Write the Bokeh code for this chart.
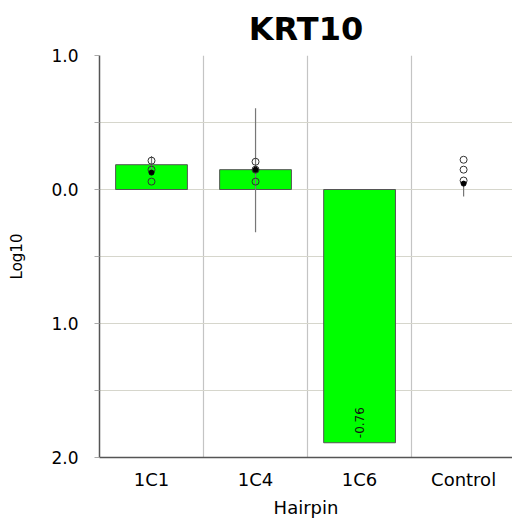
import numpy as np
from bokeh.plotting import figure
from bokeh.models import FixedTicker, Range1d
from bokeh.embed import file_html
from bokeh.resources import INLINE
from bokeh.core.properties import value

# ---- data ----
categories = ["1C1", "1C4", "1C6", "Control"]
bar_values = [0.185, 0.148, -1.89, 0.0]
bar_shown = [True, True, True, False]
err_low = [0.126, -0.319, None, -0.052]
err_high = [0.25, 0.607, None, 0.044]
open_points_1C1 = [0.215, 0.148, 0.059]
open_points_1C4 = [0.207, 0.148, 0.059]
open_points_ctrl = [0.222, 0.148, 0.067]
filled_points = {"1C1": 0.126, "1C4": 0.148, "Control": 0.044}
note_category = "1C6"
note_text = "-0.76"
note_y = -1.74
y_ticks = [-2.0, -1.5, -1.0, -0.5, 0.0, 0.5, 1.0]
y_tick_text = {-2.0: "2.0", -1.0: "1.0", 0.0: "0.0", 1.0: "1.0"}

FONT = "DejaVu Sans"
pos = {c: i + 0.5 for i, c in enumerate(categories)}

p = figure(width=512, height=520, output_backend="svg", toolbar_location=None,
           x_range=Range1d(0, 3.97), y_range=Range1d(-2.0, 1.0),
           min_border_left=99, min_border_right=0, min_border_top=54, min_border_bottom=61,
           title="KRT10")
p.outline_line_color = None
p.background_fill_color = "white"
p.border_fill_color = "white"

p.title.text_font = FONT
p.title.text_font_size = "32px"
p.title.text_font_style = "bold"
p.title.align = "center"
p.title.text_color = "black"
p.title.standoff = 15

# bars
bx = [pos[c] for c, s in zip(categories, bar_shown) if s]
bt = [v for v, s in zip(bar_values, bar_shown) if s]
p.vbar(x=bx, top=bt, bottom=0, width=0.69, fill_color="#00ff00",
       line_color="#555555", line_width=1)

# error bars
ex, elo, ehi = [], [], []
for c, lo, hi in zip(categories, err_low, err_high):
    if lo is not None:
        ex.append(pos[c]); elo.append(lo); ehi.append(hi)
p.segment(x0=ex, y0=elo, x1=ex, y1=ehi, line_color="#777777", line_width=1.2)

# points
px, py = [], []
for c, pts in (("1C1", open_points_1C1), ("1C4", open_points_1C4), ("Control", open_points_ctrl)):
    for v in pts:
        px.append(pos[c]); py.append(v)
p.scatter(x=px, y=py, marker="circle", size=7, fill_color=None,
          line_color="#333333", line_width=1)
p.scatter(x=[pos[c] for c in filled_points], y=list(filled_points.values()),
          marker="circle", size=5, fill_color="black", line_color="black")

p.text(x=[pos[note_category]], y=[note_y], text=[note_text], angle=np.pi / 2,
       text_align="center", text_baseline="middle", text_font=value(FONT),
       text_font_size="12px", text_color="#111111")

# y axis
ya = p.yaxis[0]
ya.ticker = FixedTicker(ticks=y_ticks)
ya.major_label_overrides = {t: y_tick_text.get(t, "") for t in y_ticks}
ya.minor_tick_line_color = None
ya.major_tick_in = 0
ya.major_tick_out = 5
ya.major_tick_line_color = "#aaaaaa"
ya.axis_line_color = "#555555"
ya.axis_line_width = 1.5
ya.major_label_standoff = 16
ya.major_label_text_font = FONT
ya.major_label_text_font_size = "17px"
ya.major_label_text_color = "black"
ya.axis_label = "Log10"
ya.axis_label_text_font = FONT
ya.axis_label_text_font_size = "15px"
ya.axis_label_text_font_style = "normal"
ya.axis_label_text_color = "black"
ya.axis_label_standoff = 22

# x axis
xa = p.xaxis[0]
xa.ticker = FixedTicker(ticks=[pos[c] for c in categories])
xa.major_label_overrides = {pos[c]: c for c in categories}
xa.minor_tick_line_color = None
xa.major_tick_line_color = None
xa.major_tick_in = 0
xa.major_tick_out = 0
xa.axis_line_color = "#555555"
xa.axis_line_width = 1.5
xa.major_label_standoff = 11
xa.major_label_text_font = FONT
xa.major_label_text_font_size = "18px"
xa.major_label_text_color = "black"
xa.axis_label = "Hairpin"
xa.axis_label_text_font = FONT
xa.axis_label_text_font_size = "18px"
xa.axis_label_text_font_style = "normal"
xa.axis_label_text_color = "black"
xa.axis_label_standoff = 4

# grids
p.ygrid.ticker = FixedTicker(ticks=y_ticks)
p.ygrid.grid_line_color = "#d6d6cc"
p.ygrid.grid_line_width = 1.2
p.xgrid.ticker = FixedTicker(ticks=[1, 2, 3])
p.xgrid.grid_line_color = "#c4c4c4"
p.xgrid.grid_line_width = 1.2

open("out.html", "w").write(file_html(p, INLINE))
